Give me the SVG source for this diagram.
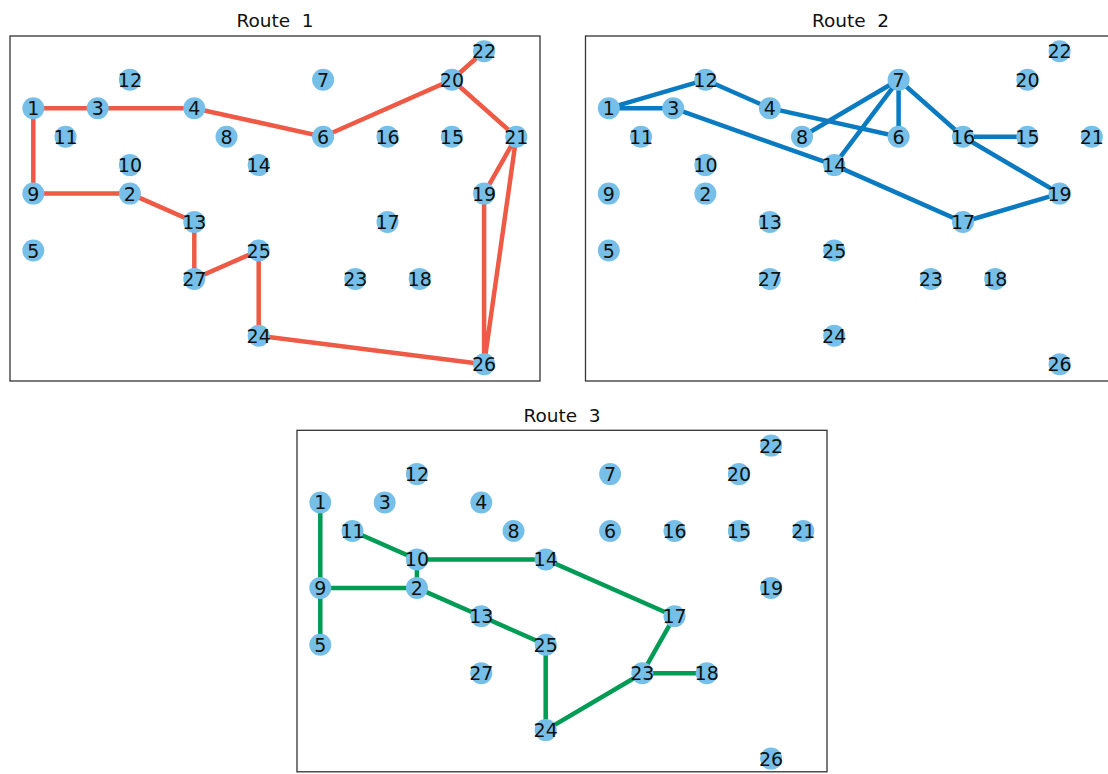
<svg xmlns="http://www.w3.org/2000/svg" width="1108" height="774" viewBox="0 0 1108 774">
<style>
.frame{fill:none;stroke:#333;stroke-width:1.3}
.title{font-family:"DejaVu Sans",sans-serif;font-size:18.5px;fill:#111;text-anchor:middle;white-space:pre}
.node circle{fill:#76bfe8}
.node text{font-family:"DejaVu Sans",sans-serif;font-size:19px;fill:#111;text-anchor:middle;dominant-baseline:central}
.e{fill:none;stroke-width:4.5;stroke-linecap:butt;stroke-linejoin:miter}
.r1{stroke:#ee5a45}
.r2{stroke:#0a7bc1}
.r3{stroke:#009b55}
</style>
<rect width="1108" height="774" fill="#fff"/>

<!-- Panel 1 -->
<g id="panel1">
<rect class="frame" x="10" y="36" width="530" height="345"/>
<text class="title" x="275" y="27.3" xml:space="preserve">Route  1</text>
<g id="p1-connectors" class="e r1">
<polyline points="33.3,108.2 97.7,108.2 194.3,108.2 323.1,136.7 451.9,79.8 484.1,51.3"/>
<polyline points="451.9,79.8 516.3,136.7 484.1,193.6 484.1,364.3 516.3,136.7"/>
<polyline points="484.1,364.3 258.7,335.8 258.7,250.5 194.3,278.9 194.3,222.0 129.9,193.6 33.3,193.6 33.3,108.2"/>
</g>
<g id="p1-nodes">
<g id="p1-n1" class="node"><circle cx="33.3" cy="108.2" r="11"/><text x="33.3" y="108.2">1</text></g>
<g id="p1-n2" class="node"><circle cx="129.9" cy="193.6" r="11"/><text x="129.9" y="193.6">2</text></g>
<g id="p1-n3" class="node"><circle cx="97.7" cy="108.2" r="11"/><text x="97.7" y="108.2">3</text></g>
<g id="p1-n4" class="node"><circle cx="194.3" cy="108.2" r="11"/><text x="194.3" y="108.2">4</text></g>
<g id="p1-n5" class="node"><circle cx="33.3" cy="250.5" r="11"/><text x="33.3" y="250.5">5</text></g>
<g id="p1-n6" class="node"><circle cx="323.1" cy="136.7" r="11"/><text x="323.1" y="136.7">6</text></g>
<g id="p1-n7" class="node"><circle cx="323.1" cy="79.8" r="11"/><text x="323.1" y="79.8">7</text></g>
<g id="p1-n8" class="node"><circle cx="226.5" cy="136.7" r="11"/><text x="226.5" y="136.7">8</text></g>
<g id="p1-n9" class="node"><circle cx="33.3" cy="193.6" r="11"/><text x="33.3" y="193.6">9</text></g>
<g id="p1-n10" class="node"><circle cx="129.9" cy="165.1" r="11"/><text x="129.9" y="165.1">10</text></g>
<g id="p1-n11" class="node"><circle cx="65.5" cy="136.7" r="11"/><text x="65.5" y="136.7">11</text></g>
<g id="p1-n12" class="node"><circle cx="129.9" cy="79.8" r="11"/><text x="129.9" y="79.8">12</text></g>
<g id="p1-n13" class="node"><circle cx="194.3" cy="222.0" r="11"/><text x="194.3" y="222.0">13</text></g>
<g id="p1-n14" class="node"><circle cx="258.7" cy="165.1" r="11"/><text x="258.7" y="165.1">14</text></g>
<g id="p1-n15" class="node"><circle cx="451.9" cy="136.7" r="11"/><text x="451.9" y="136.7">15</text></g>
<g id="p1-n16" class="node"><circle cx="387.5" cy="136.7" r="11"/><text x="387.5" y="136.7">16</text></g>
<g id="p1-n17" class="node"><circle cx="387.5" cy="222.0" r="11"/><text x="387.5" y="222.0">17</text></g>
<g id="p1-n18" class="node"><circle cx="419.7" cy="278.9" r="11"/><text x="419.7" y="278.9">18</text></g>
<g id="p1-n19" class="node"><circle cx="484.1" cy="193.6" r="11"/><text x="484.1" y="193.6">19</text></g>
<g id="p1-n20" class="node"><circle cx="451.9" cy="79.8" r="11"/><text x="451.9" y="79.8">20</text></g>
<g id="p1-n21" class="node"><circle cx="516.3" cy="136.7" r="11"/><text x="516.3" y="136.7">21</text></g>
<g id="p1-n22" class="node"><circle cx="484.1" cy="51.3" r="11"/><text x="484.1" y="51.3">22</text></g>
<g id="p1-n23" class="node"><circle cx="355.3" cy="278.9" r="11"/><text x="355.3" y="278.9">23</text></g>
<g id="p1-n24" class="node"><circle cx="258.7" cy="335.8" r="11"/><text x="258.7" y="335.8">24</text></g>
<g id="p1-n25" class="node"><circle cx="258.7" cy="250.5" r="11"/><text x="258.7" y="250.5">25</text></g>
<g id="p1-n26" class="node"><circle cx="484.1" cy="364.3" r="11"/><text x="484.1" y="364.3">26</text></g>
<g id="p1-n27" class="node"><circle cx="194.3" cy="278.9" r="11"/><text x="194.3" y="278.9">27</text></g>
</g>
</g>

<!-- Panel 2 -->
<g id="panel2" transform="translate(575.5,0)">
<rect class="frame" x="10" y="36" width="530" height="345"/>
<text class="title" x="275" y="27.3" xml:space="preserve">Route  2</text>
<g id="p2-connectors" class="e r2">
<polyline points="97.7,108.2 33.3,108.2 129.9,79.8 194.3,108.2 323.1,136.7 323.1,79.8 226.5,136.7"/>
<polyline points="323.1,79.8 258.7,165.1"/>
<polyline points="323.1,79.8 387.5,136.7 451.9,136.7"/>
<polyline points="387.5,136.7 484.1,193.6 387.5,222.0 258.7,165.1 97.7,108.2"/>
</g>
<g id="p2-nodes">
<g id="p2-n1" class="node"><circle cx="33.3" cy="108.2" r="11"/><text x="33.3" y="108.2">1</text></g>
<g id="p2-n2" class="node"><circle cx="129.9" cy="193.6" r="11"/><text x="129.9" y="193.6">2</text></g>
<g id="p2-n3" class="node"><circle cx="97.7" cy="108.2" r="11"/><text x="97.7" y="108.2">3</text></g>
<g id="p2-n4" class="node"><circle cx="194.3" cy="108.2" r="11"/><text x="194.3" y="108.2">4</text></g>
<g id="p2-n5" class="node"><circle cx="33.3" cy="250.5" r="11"/><text x="33.3" y="250.5">5</text></g>
<g id="p2-n6" class="node"><circle cx="323.1" cy="136.7" r="11"/><text x="323.1" y="136.7">6</text></g>
<g id="p2-n7" class="node"><circle cx="323.1" cy="79.8" r="11"/><text x="323.1" y="79.8">7</text></g>
<g id="p2-n8" class="node"><circle cx="226.5" cy="136.7" r="11"/><text x="226.5" y="136.7">8</text></g>
<g id="p2-n9" class="node"><circle cx="33.3" cy="193.6" r="11"/><text x="33.3" y="193.6">9</text></g>
<g id="p2-n10" class="node"><circle cx="129.9" cy="165.1" r="11"/><text x="129.9" y="165.1">10</text></g>
<g id="p2-n11" class="node"><circle cx="65.5" cy="136.7" r="11"/><text x="65.5" y="136.7">11</text></g>
<g id="p2-n12" class="node"><circle cx="129.9" cy="79.8" r="11"/><text x="129.9" y="79.8">12</text></g>
<g id="p2-n13" class="node"><circle cx="194.3" cy="222.0" r="11"/><text x="194.3" y="222.0">13</text></g>
<g id="p2-n14" class="node"><circle cx="258.7" cy="165.1" r="11"/><text x="258.7" y="165.1">14</text></g>
<g id="p2-n15" class="node"><circle cx="451.9" cy="136.7" r="11"/><text x="451.9" y="136.7">15</text></g>
<g id="p2-n16" class="node"><circle cx="387.5" cy="136.7" r="11"/><text x="387.5" y="136.7">16</text></g>
<g id="p2-n17" class="node"><circle cx="387.5" cy="222.0" r="11"/><text x="387.5" y="222.0">17</text></g>
<g id="p2-n18" class="node"><circle cx="419.7" cy="278.9" r="11"/><text x="419.7" y="278.9">18</text></g>
<g id="p2-n19" class="node"><circle cx="484.1" cy="193.6" r="11"/><text x="484.1" y="193.6">19</text></g>
<g id="p2-n20" class="node"><circle cx="451.9" cy="79.8" r="11"/><text x="451.9" y="79.8">20</text></g>
<g id="p2-n21" class="node"><circle cx="516.3" cy="136.7" r="11"/><text x="516.3" y="136.7">21</text></g>
<g id="p2-n22" class="node"><circle cx="484.1" cy="51.3" r="11"/><text x="484.1" y="51.3">22</text></g>
<g id="p2-n23" class="node"><circle cx="355.3" cy="278.9" r="11"/><text x="355.3" y="278.9">23</text></g>
<g id="p2-n24" class="node"><circle cx="258.7" cy="335.8" r="11"/><text x="258.7" y="335.8">24</text></g>
<g id="p2-n25" class="node"><circle cx="258.7" cy="250.5" r="11"/><text x="258.7" y="250.5">25</text></g>
<g id="p2-n26" class="node"><circle cx="484.1" cy="364.3" r="11"/><text x="484.1" y="364.3">26</text></g>
<g id="p2-n27" class="node"><circle cx="194.3" cy="278.9" r="11"/><text x="194.3" y="278.9">27</text></g>
</g>
</g>

<!-- Panel 3 -->
<g id="panel3" transform="translate(287,394.3)">
<rect class="frame" x="10" y="36" width="530" height="341.5"/>
<text class="title" x="275" y="27.3" xml:space="preserve">Route  3</text>
<g id="p3-connectors" class="e r3">
<polyline points="33.3,108.2 33.3,193.6 33.3,250.5"/>
<polyline points="33.3,193.6 129.9,193.6 129.9,165.1 65.5,136.7"/>
<polyline points="129.9,165.1 258.7,165.1 387.5,222.0 355.3,278.9 419.7,278.9"/>
<polyline points="355.3,278.9 258.7,335.8 258.7,250.5 194.3,222.0 129.9,193.6"/>
</g>
<g id="p3-nodes">
<g id="p3-n1" class="node"><circle cx="33.3" cy="108.2" r="11"/><text x="33.3" y="108.2">1</text></g>
<g id="p3-n2" class="node"><circle cx="129.9" cy="193.6" r="11"/><text x="129.9" y="193.6">2</text></g>
<g id="p3-n3" class="node"><circle cx="97.7" cy="108.2" r="11"/><text x="97.7" y="108.2">3</text></g>
<g id="p3-n4" class="node"><circle cx="194.3" cy="108.2" r="11"/><text x="194.3" y="108.2">4</text></g>
<g id="p3-n5" class="node"><circle cx="33.3" cy="250.5" r="11"/><text x="33.3" y="250.5">5</text></g>
<g id="p3-n6" class="node"><circle cx="323.1" cy="136.7" r="11"/><text x="323.1" y="136.7">6</text></g>
<g id="p3-n7" class="node"><circle cx="323.1" cy="79.8" r="11"/><text x="323.1" y="79.8">7</text></g>
<g id="p3-n8" class="node"><circle cx="226.5" cy="136.7" r="11"/><text x="226.5" y="136.7">8</text></g>
<g id="p3-n9" class="node"><circle cx="33.3" cy="193.6" r="11"/><text x="33.3" y="193.6">9</text></g>
<g id="p3-n10" class="node"><circle cx="129.9" cy="165.1" r="11"/><text x="129.9" y="165.1">10</text></g>
<g id="p3-n11" class="node"><circle cx="65.5" cy="136.7" r="11"/><text x="65.5" y="136.7">11</text></g>
<g id="p3-n12" class="node"><circle cx="129.9" cy="79.8" r="11"/><text x="129.9" y="79.8">12</text></g>
<g id="p3-n13" class="node"><circle cx="194.3" cy="222.0" r="11"/><text x="194.3" y="222.0">13</text></g>
<g id="p3-n14" class="node"><circle cx="258.7" cy="165.1" r="11"/><text x="258.7" y="165.1">14</text></g>
<g id="p3-n15" class="node"><circle cx="451.9" cy="136.7" r="11"/><text x="451.9" y="136.7">15</text></g>
<g id="p3-n16" class="node"><circle cx="387.5" cy="136.7" r="11"/><text x="387.5" y="136.7">16</text></g>
<g id="p3-n17" class="node"><circle cx="387.5" cy="222.0" r="11"/><text x="387.5" y="222.0">17</text></g>
<g id="p3-n18" class="node"><circle cx="419.7" cy="278.9" r="11"/><text x="419.7" y="278.9">18</text></g>
<g id="p3-n19" class="node"><circle cx="484.1" cy="193.6" r="11"/><text x="484.1" y="193.6">19</text></g>
<g id="p3-n20" class="node"><circle cx="451.9" cy="79.8" r="11"/><text x="451.9" y="79.8">20</text></g>
<g id="p3-n21" class="node"><circle cx="516.3" cy="136.7" r="11"/><text x="516.3" y="136.7">21</text></g>
<g id="p3-n22" class="node"><circle cx="484.1" cy="51.3" r="11"/><text x="484.1" y="51.3">22</text></g>
<g id="p3-n23" class="node"><circle cx="355.3" cy="278.9" r="11"/><text x="355.3" y="278.9">23</text></g>
<g id="p3-n24" class="node"><circle cx="258.7" cy="335.8" r="11"/><text x="258.7" y="335.8">24</text></g>
<g id="p3-n25" class="node"><circle cx="258.7" cy="250.5" r="11"/><text x="258.7" y="250.5">25</text></g>
<g id="p3-n26" class="node"><circle cx="484.1" cy="364.3" r="11"/><text x="484.1" y="364.3">26</text></g>
<g id="p3-n27" class="node"><circle cx="194.3" cy="278.9" r="11"/><text x="194.3" y="278.9">27</text></g>
</g>
</g>
</svg>
